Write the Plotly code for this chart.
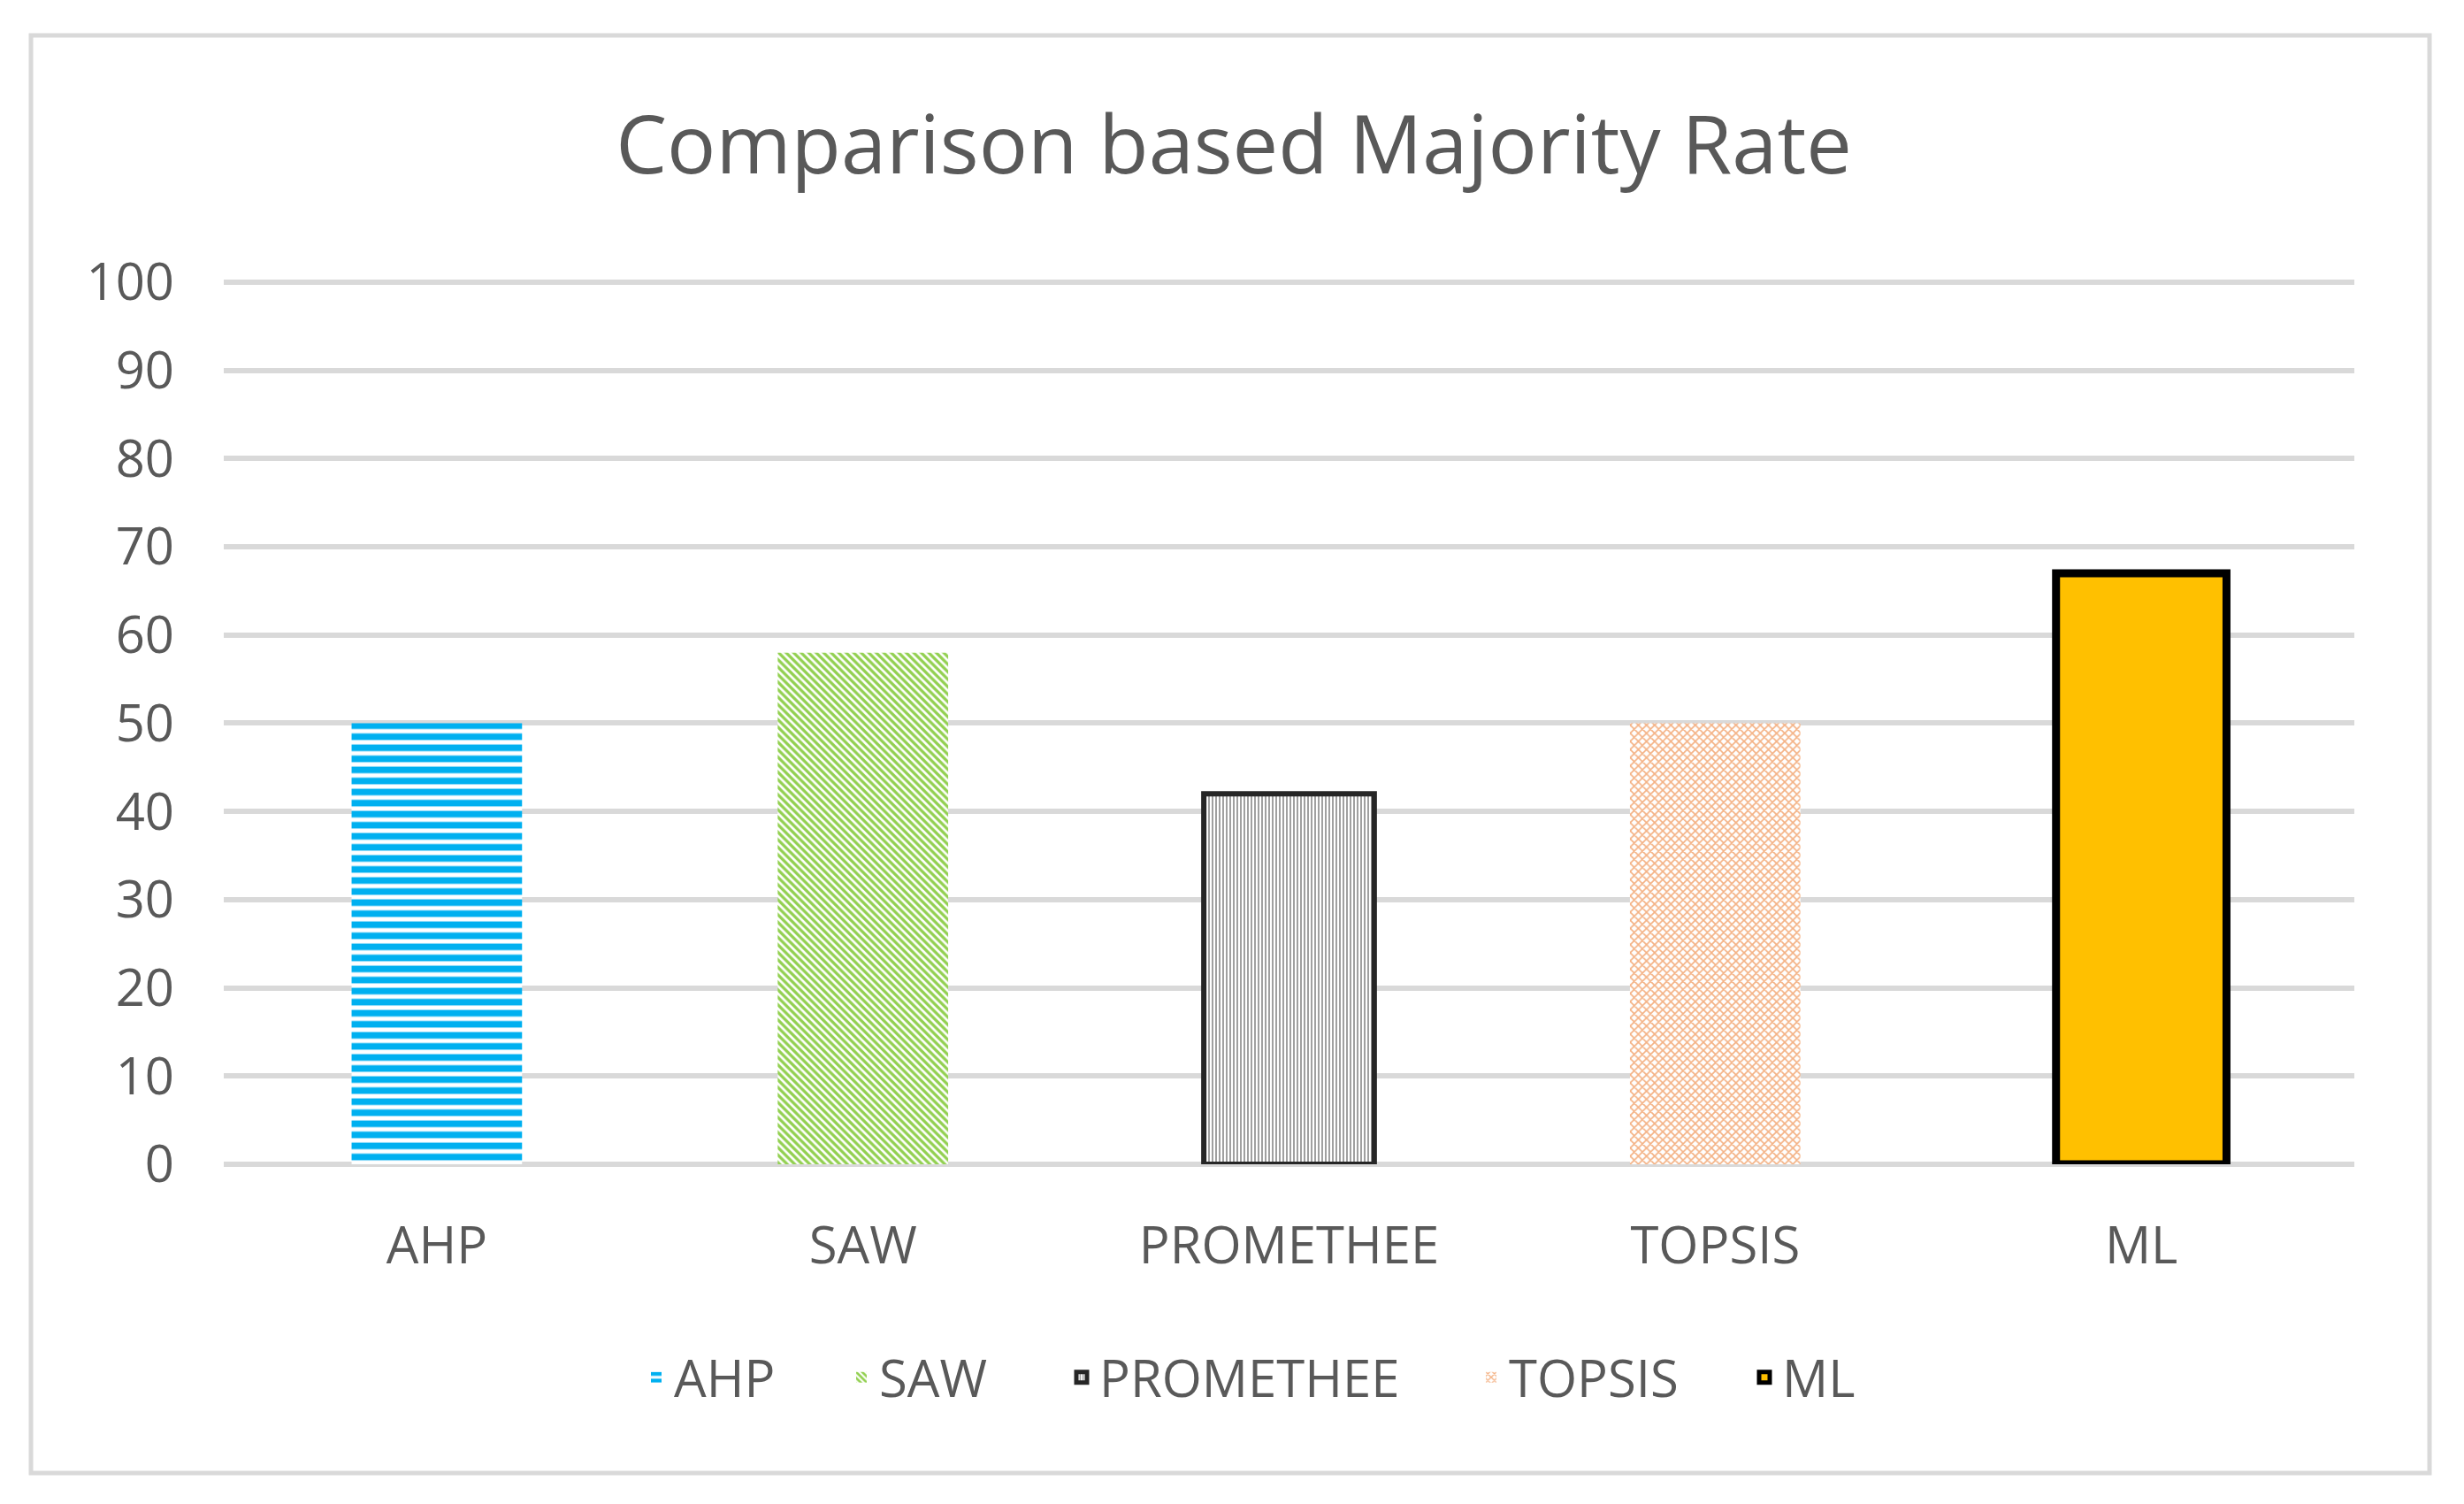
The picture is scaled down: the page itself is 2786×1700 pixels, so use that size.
import plotly.graph_objects as go

categories = ["AHP", "SAW", "PROMETHEE", "TOPSIS", "ML"]
values = [50, 58, 42, 50, 67]
fill_colors = ["#00B0F0", "#92D050", "#A0A0A0", "#F4B183", "#FFC000"]
pattern_shapes = ["-", "\\", "|", "x", ""]
y_ticks = [0, 10, 20, 30, 40, 50, 60, 70, 80, 90, 100]

pattern_sizes = [12.5, 6, 4, 6.5, 8]
pattern_solidity = [0.6, 0.55, 0.5, 0.45, 0.5]
line_colors = ["rgba(0,0,0,0)", "rgba(0,0,0,0)", "#262626", "rgba(0,0,0,0)", "#000000"]
line_widths = [0, 0, 6, 0, 9]
# left edge (figure px) of the text of each legend entry
legend_text_x = [763, 995, 1244, 1707, 2016]

TEXT = "#595959"
GRID = "#D9D9D9"
FONT = "Open Sans"

W, H = 2770, 1684
L, R, T, B = 245, 116, 306, 376
pw, ph = W - L - R, H - T - B


def px_to_paper_x(px):
    return (px - L) / pw


def px_to_paper_y(py):
    return (H - B - py) / ph


fig = go.Figure()
legend_layouts = {}
for i, cat in enumerate(categories):
    if pattern_shapes[i]:
        marker = dict(
            color="#FFFFFF",
            pattern=dict(shape=pattern_shapes[i], fgcolor=fill_colors[i], bgcolor="#FFFFFF",
                         fgopacity=1, size=pattern_sizes[i], solidity=pattern_solidity[i],
                         fillmode="overlay"),
            line=dict(color=line_colors[i], width=line_widths[i]),
        )
    else:
        marker = dict(color=fill_colors[i], line=dict(color=line_colors[i], width=line_widths[i]))
    lname = "legend" if i == 0 else f"legend{i + 1}"
    fig.add_trace(go.Bar(x=[cat], y=[values[i]], name=cat, width=0.4, marker=marker,
                         legend=lname, showlegend=True))
    legend_layouts[lname] = dict(
        visible=True,
        orientation="h", x=px_to_paper_x(legend_text_x[i] - 49), xanchor="left",
        y=px_to_paper_y(1549), yanchor="middle",
        font=dict(family=FONT, size=58, color=TEXT), itemwidth=30,
        bgcolor="rgba(0,0,0,0)", borderwidth=0)

fig.update_layout(
    width=W, height=H,
    margin=dict(l=L, r=R, t=T, b=B, pad=0),
    paper_bgcolor="white", plot_bgcolor="white",
    barmode="overlay",
    showlegend=True,
    font=dict(family=FONT, size=58, color=TEXT),
    title=dict(text="Comparison based Majority Rate", x=1387 / W, xanchor="center",
               y=1 - 156 / H, yanchor="middle", yref="container", xref="container",
               font=dict(family=FONT, size=92, color=TEXT)),
    xaxis=dict(categoryorder="array", categoryarray=categories, showgrid=False,
               showline=False, ticks="", tickfont=dict(size=58, color=TEXT),
               ticklabelstandoff=53),
    yaxis=dict(range=[0, 100.5], tickvals=y_ticks, showgrid=True, gridcolor=GRID,
               gridwidth=5.5, zeroline=True, zerolinecolor=GRID, zerolinewidth=5.5,
               showline=False, ticks="", tickfont=dict(size=58, color=TEXT),
               ticklabelstandoff=55),
    shapes=[dict(type="rect", xref="paper", yref="paper",
                 x0=px_to_paper_x(27), x1=px_to_paper_x(2739),
                 y0=px_to_paper_y(1657), y1=px_to_paper_y(32),
                 line=dict(color=GRID, width=5), fillcolor="rgba(0,0,0,0)", layer="below")],
    **legend_layouts,
)

fig.write_html("out.html")
